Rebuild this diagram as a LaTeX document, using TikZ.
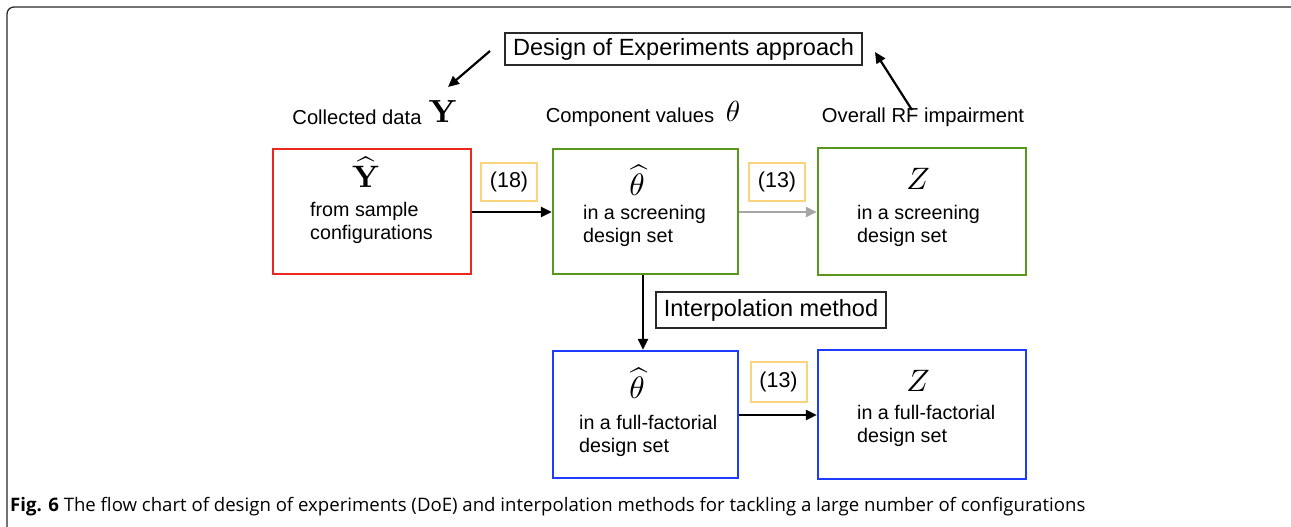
\documentclass[tikz,border=0pt]{standalone}
\usepackage{graphicx}
\usepackage[no-math]{fontspec}
\setmainfont{Liberation Sans}
\newfontfamily\capfont{Open Sans}
\usetikzlibrary{arrows.meta}
\definecolor{boxred}{RGB}{236,40,30}
\definecolor{boxgreen}{RGB}{88,150,28}
\definecolor{boxblue}{RGB}{30,60,255}
\definecolor{eqyellow}{RGB}{250,212,125}
\definecolor{frameink}{RGB}{40,40,40}
% large math symbols, scaled from the 10pt design size
\newcommand{\bigsym}[2]{\scalebox{#1}{$#2$}}
\tikzset{
  stagebox/.style={draw, line width=2.4pt, minimum width=#1, minimum height=125pt, inner sep=0pt},
  eqbox/.style={draw=eqyellow, line width=2pt, minimum width=56pt, minimum height=38pt, inner sep=0pt,
    font=\fontsize{21.5}{24}\selectfont},
  labelbox/.style={draw=frameink, line width=1.2pt, inner sep=0pt, font=\fontsize{23.5}{26}\selectfont},
  bodytext/.style={anchor=west, align=left, inner sep=0pt, font=\fontsize{19.7}{23.5}\selectfont},
  headtext/.style={inner sep=0pt, font=\fontsize{20.2}{23}\selectfont},
  mathsym/.style={inner sep=0pt},
  flow/.style={line width=2.3pt, -{Triangle[length=11pt,width=10pt]}},
}
\begin{document}
\begin{tikzpicture}[x=1pt,y=-1pt]
\useasboundingbox (0,0) rectangle (1291,527);
% outer frame
\draw[frameink, line width=1.3pt, rounded corners=7pt] (7,527) -- (7,7) -- (1291,7);

% top label and its arrows
\node[labelbox, minimum width=357pt, minimum height=32pt] (doe) at (683.5,49) {Design of Experiments approach};
\coordinate (doeL) at (490,51);
\coordinate (doeLend) at (448,87);
\coordinate (doeR) at (912,110);
\coordinate (doeRend) at (875,52);
\draw[flow, line width=2.2pt] (doeL) -- (doeLend);
\draw[flow, line width=2.2pt] (doeR) -- (doeRend);

% column headings
\node[headtext] (hdata) at (357,117) {Collected data};
\node[mathsym] (hY) at (443,112) {\bigsym{3.2}{\mathbf{Y}}};
\node[headtext] (hcomp) at (630,117) {Component values};
\node[mathsym] (htheta) at (733,111) {\bigsym{2.9}{\theta}};
\node[headtext] (himp) at (923,117) {Overall RF impairment};

% stage boxes
\node[stagebox=198pt, draw=boxred] (obs) at (372,211.5) {};
\node[stagebox=185pt, draw=boxgreen] (scr) at (645.5,211.5) {};
\node[stagebox=208pt, draw=boxgreen, minimum height=127pt] (zscr) at (922,211.5) {};
\node[stagebox=185pt, draw=boxblue, minimum height=127pt] (ful) at (645.5,414.5) {};
\node[stagebox=208pt, draw=boxblue, minimum height=129pt] (zful) at (922,414.5) {};

% box contents
\node[mathsym] (yhat) at (366,172) {\bigsym{3.1}{\widehat{\mathbf{Y}}}};
\node[bodytext] (tobs) at (310,223) {from sample\\configurations};
\node[mathsym] (thhat) at (637,180) {\bigsym{3.1}{\widehat{\theta}}};
\node[bodytext] (tscr) at (583,226) {in a screening\\design set};
\node[mathsym] (zs) at (918,179) {\bigsym{3.1}{Z}};
\node[bodytext] (tzscr) at (857,226) {in a screening\\design set};
\node[mathsym] (thhat2) at (637,383) {\bigsym{3.1}{\widehat{\theta}}};
\node[bodytext] (tful) at (579,436) {in a full-factorial\\design set};
\node[mathsym] (zf) at (918,381) {\bigsym{3.1}{Z}};
\node[bodytext] (tzful) at (857,426) {in a full-factorial\\design set};

% equation references
\node[eqbox] (e18) at (509,182) {(18)};
\node[eqbox] (e13a) at (777,182) {(13)};
\node[eqbox, minimum height=40pt] (e13b) at (778.5,382) {(13)};

% interpolation label
\node[labelbox, minimum width=230pt, minimum height=36pt] (interp) at (771,310) {Interpolation method};

% flow arrows
\draw[flow] (obs.east |- 0,212) -- (scr.west |- 0,212);
\draw[flow, draw=black!35, -{Triangle[length=11pt,width=10pt,fill=black!35]}] (scr.east |- 0,212) -- (zscr.west |- 0,212);
\draw[flow] (scr.south -| 643,0) -- (ful.north -| 643,0);
\draw[flow] (ful.east |- 0,415) -- (zful.west |- 0,415);

% caption
\node[anchor=west, inner sep=0pt, font=\capfont\fontsize{18.6}{21}\selectfont] (cap) at (10,507)
  {\textbf{Fig. 6} The flow chart of design of experiments (DoE) and interpolation methods for tackling a large number of configurations};
\end{tikzpicture}
\end{document}
